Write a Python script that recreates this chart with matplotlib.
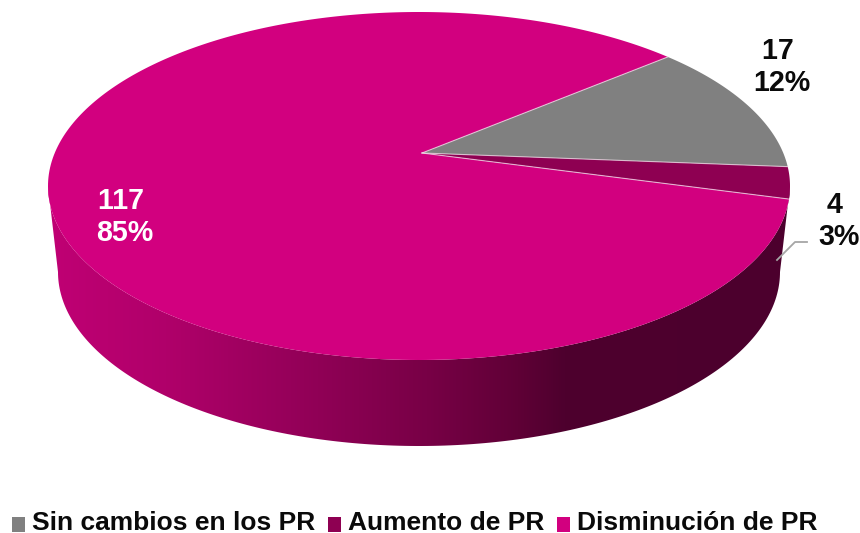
import numpy as np
import matplotlib
matplotlib.use('Agg')
import matplotlib.pyplot as plt
from matplotlib.colors import LinearSegmentedColormap
from matplotlib.patches import Patch, Polygon

plt.rcParams['font.family'] = ['Liberation Sans', 'DejaVu Sans']

categories = ['Sin cambios en los PR', 'Aumento de PR', 'Disminución de PR']
values = [17, 4, 117]
percents = ['12%', '3%', '85%']
colors = ['#808080', '#8E0052', '#D2007F']

# top face and lower rim of the tilted pie, in pixels
CX, CY, RX, RY = 419, 186, 371, 174
BOT_CY, BOT_RX, BOT_RY = 272, 361, 174
APEX = (422, 153)
START = 39.8
SIDE_X = [48, 165, 290, 427, 519, 565, 790]
SIDE_C = ['#C00074', '#B0006A', '#96005A', '#780046', '#5F0036', '#4E002E', '#4C002D']


def rim_point(angle):
    # ray from the apex, in the unit circle of the ellipse
    ux, uy = (APEX[0] - CX) / RX, (CY - APEX[1]) / RY
    dx, dy = np.cos(np.radians(angle)), np.sin(np.radians(angle))
    b = ux * dx + uy * dy
    t = -b + np.sqrt(b * b - (ux * ux + uy * uy - 1))
    return CX + RX * (ux + t * dx), CY - RY * (uy + t * dy)


fig = plt.figure(figsize=(8.6, 5.33), dpi=100)
ax = fig.add_axes([0, 0, 1, 1])
ax.set_xlim(0, 860)
ax.set_ylim(533, 0)
ax.axis('off')

# side wall
t = np.radians(np.linspace(180, 360, 200))
upper = np.c_[CX + RX * np.cos(t), CY - RY * np.sin(t)]
lower = np.c_[CX + BOT_RX * np.cos(t), BOT_CY - BOT_RY * np.sin(t)]
wall = Polygon(np.r_[upper, lower[::-1]], closed=True, fc='none', ec='none', transform=ax.transData)
ax.add_patch(wall)
pos = (np.array(SIDE_X) - SIDE_X[0]) / (SIDE_X[-1] - SIDE_X[0])
cmap = LinearSegmentedColormap.from_list('side', list(zip(pos, SIDE_C)))
img = ax.imshow(np.linspace(0, 1, 256)[None, :], cmap=cmap, aspect='auto',
                extent=[SIDE_X[0], SIDE_X[-1], 450, 180], zorder=1)
img.set_clip_path(wall)
ax.set_xlim(0, 860)
ax.set_ylim(533, 0)

# slices of the top face
bounds = [START]
for v in values:
    bounds.append(bounds[-1] - v / sum(values) * 360)
for i in range(3):
    rim = [rim_point(a) for a in np.linspace(bounds[i], bounds[i + 1], 300)]
    ax.add_patch(Polygon([APEX] + rim, closed=True, fc=colors[i], ec='none', zorder=2))
for a in bounds[:3]:
    x, y = rim_point(a)
    ax.plot([APEX[0], x], [APEX[1], y], color='#F0E6EC', lw=0.8, alpha=0.7, zorder=3)

# leader line for the small slice
ax.plot([777, 795, 807], [260, 242, 242], color='#A6A6A6', lw=1.3, zorder=3)

# the trailing space pushes the count left of the percent, as in the original labels
label_x = [782, 839, 125]
label_y = [67, 221, 217]
label_c = ['#0A0A0A', '#0A0A0A', 'white']
for i in range(3):
    ax.text(label_x[i], label_y[i], f'{values[i]} \n{percents[i]}', ha='center', va='center',
            fontsize=20.6, fontweight='bold', color=label_c[i], linespacing=1.14, zorder=4)

handles = [Patch(fc=c, ec='none') for c in colors]
leg = ax.legend(handles, categories, ncol=3, loc='lower left', bbox_to_anchor=(12, 534.5),
                bbox_transform=ax.transData, frameon=False,
                prop={'weight': 'bold', 'size': 19}, handlelength=0.5, handleheight=0.5,
                handletextpad=0.27, columnspacing=0.46, borderpad=0, borderaxespad=0,
                labelcolor='#0A0A0A')
# squares sit a little lower than the text
for h in leg.legend_handles:
    h.set_y(h.get_y() - 3)

fig.savefig('out.png', dpi=100)
